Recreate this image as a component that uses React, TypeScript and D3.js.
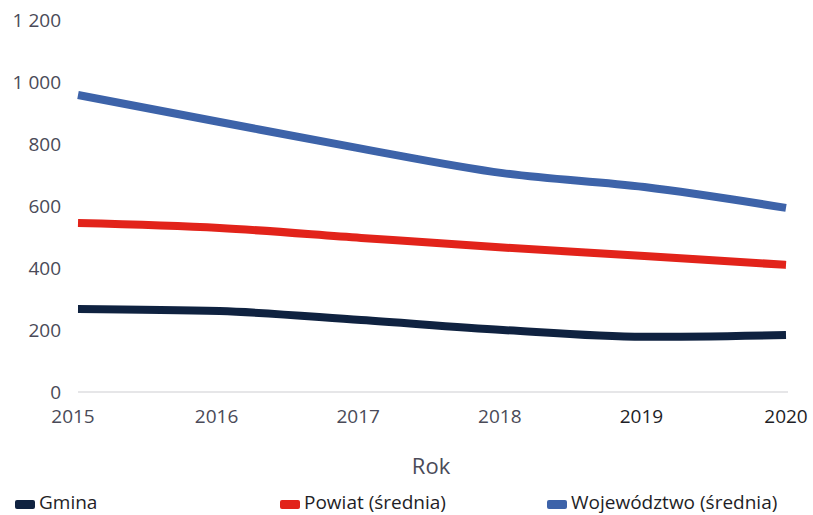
import React from "react";
import * as d3 from "d3";

const years = [2015, 2016, 2017, 2018, 2019, 2020];
const gmina = [268, 261, 232, 200, 178, 184];
const powiat = [545, 529, 497, 466, 439, 410];
const wojewodztwo = [958, 871, 785, 706, 661, 594];
const yTicks = [0, 200, 400, 600, 800, 1000, 1200];
const seriesNames = ["Gmina", "Powiat (średnia)", "Województwo (średnia)"];
const seriesColors = ["#0f2240", "#e2231a", "#3d63a9"];

const W = 813;
const H = 515;
const FONT = "'Open Sans', 'Noto Sans', sans-serif";

export default function App() {
  const x = d3.scaleLinear().domain([2015, 2020]).range([78, 786]);
  const y = d3.scaleLinear().domain([0, 1200]).range([392, 20]);
  const series = [gmina, powiat, wojewodztwo];
  const line = d3
    .line<number>()
    .x((_, i) => x(years[i]))
    .y((d) => y(d))
    .curve(d3.curveMonotoneX);
  const fmt = (v: number) => d3.format(",")(v).replace(/,/g, " ");
  const legendX = [15, 280, 547];

  return (
    <svg
      width={W}
      height={H}
      style={{ position: "absolute", left: 0, top: 0, background: "#fff" }}
      fontFamily={FONT}
    >
      <line x1={78} x2={788} y1={y(0)} y2={y(0)} stroke="#e6e6e8" strokeWidth={2} />
      {yTicks.map((t) => (
        <text
          key={t}
          x={61}
          y={y(t)}
          dy="0.35em"
          textAnchor="end"
          fontSize={19}
          fill="#4a4a58"
        >
          {fmt(t)}
        </text>
      ))}
      {years.map((yr, i) => (
        <text
          key={yr}
          x={i === 0 ? x(yr) - 5 : i === 5 ? x(yr) : x(yr) - 3}
          y={416}
          dy="0.35em"
          textAnchor="middle"
          fontSize={19}
          fill={i >= 4 ? "#1e1e26" : "#4a4a58"}
        >
          {yr}
        </text>
      ))}
      <text x={431} y={466} dy="0.35em" textAnchor="middle" fontSize={22} fill="#4a4a58">
        Rok
      </text>
      {series.map((s, i) => (
        <path
          key={i}
          d={line(s) || ""}
          fill="none"
          stroke={seriesColors[i]}
          strokeWidth={8}
          strokeLinejoin="round"
        />
      ))}
      {seriesNames.map((n, i) => (
        <g key={n} transform={`translate(${legendX[i]},502)`}>
          <rect x={0} y={-2} width={20} height={9} rx={2} fill={seriesColors[i]} />
          <text x={24} y={0} dy="0.35em" fontSize={19} fill="#1e1e26">
            {n}
          </text>
        </g>
      ))}
    </svg>
  );
}
